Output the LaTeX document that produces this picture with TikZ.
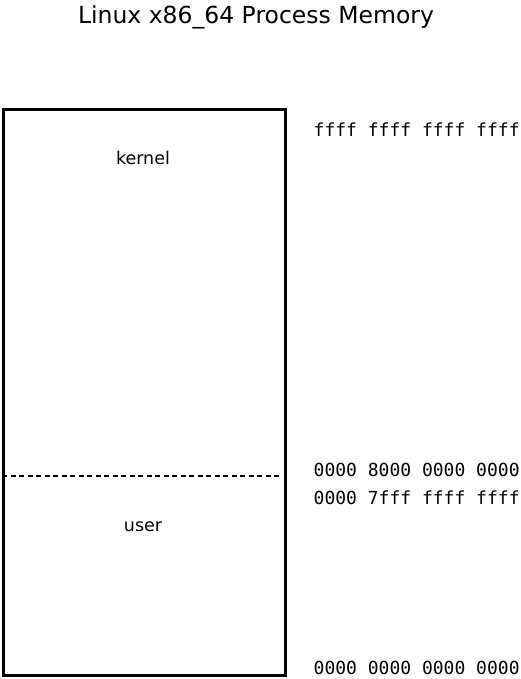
\documentclass[tikz,border=0pt]{standalone}
\usepackage{fontspec}
\setmainfont{DejaVu Sans}
\newfontfamily\monofont{DejaVu Sans Mono}
\begin{document}
\begin{tikzpicture}[x=1pt,y=-1pt,
  addr/.style={anchor=west,inner sep=0pt,font=\monofont\fontsize{18}{21}\selectfont},
  lbl/.style={inner sep=0pt,font=\fontsize{17.5}{21}\selectfont},
  memrect/.style={draw,line width=3pt,inner sep=0pt,minimum width=282.8pt,minimum height=565.5pt,anchor=north west},
  divider/.style={line width=2.5pt,dash pattern=on 5pt off 3.5pt}]
\useasboundingbox (0,0) rectangle (521,679);
\node[inner sep=0pt,font=\fontsize{23.5}{28}\selectfont] (title) at (256,17) {Linux x86\_64 Process Memory};
\node[memrect] (mem) at (1.5,108.3) {};
\coordinate (dl) at (2,476);
\coordinate (dr) at (280,476);
\draw[divider] (dl) -- (dr);
\node[lbl] (kernel) at (143,158) {kernel};
\node[lbl] (user) at (143,527) {user};
\node[addr] (a1) at (313.5,130) {ffff ffff ffff ffff};
\node[addr] (a2) at (313.5,470) {0000 8000 0000 0000};
\node[addr] (a3) at (313.5,498) {0000 7fff ffff ffff};
\node[addr] (a4) at (313.5,668) {0000 0000 0000 0000};
\end{tikzpicture}
\end{document}
